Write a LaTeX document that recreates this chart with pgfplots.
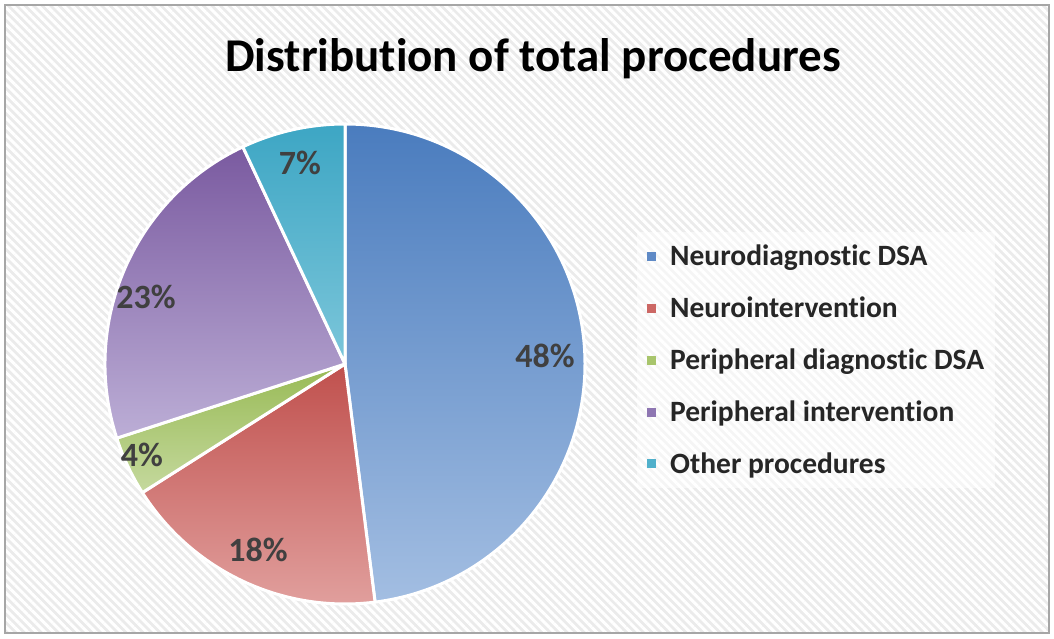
\documentclass[border=0pt]{standalone}
\usepackage{pgfplots}
\pgfplotsset{compat=1.18}
\usepackage{fontspec}
\setmainfont{Carlito}[Ligatures=NoCommon]
\usetikzlibrary{patterns.meta}
\definecolor{txt}{HTML}{404040}
\definecolor{bluet}{HTML}{4A7CBE}\definecolor{blueb}{HTML}{A3BEE2}
\definecolor{redt}{HTML}{C0504D}\definecolor{redb}{HTML}{E2A2A0}
\definecolor{greent}{HTML}{98BA55}\definecolor{greenb}{HTML}{C5D99E}
\definecolor{purt}{HTML}{7A5AA0}\definecolor{purb}{HTML}{BCAED6}
\definecolor{cyant}{HTML}{3DA6C4}\definecolor{cyanb}{HTML}{7CC6DA}
\definecolor{bluel}{HTML}{5F8AC6}\definecolor{redl}{HTML}{CC6764}
\definecolor{greenl}{HTML}{A8C56C}\definecolor{purl}{HTML}{8E76B2}
\definecolor{cyanl}{HTML}{50B0CB}
\begin{document}
\begin{tikzpicture}[x=1pt,y=1pt]
% background
\fill[white] (0,0) rectangle (1054,638);
\fill[black!8] (5,5) rectangle (1049,633);
\fill[pattern={Lines[angle=-45,distance=6pt,line width=3pt]},pattern color=white] (5,5) rectangle (1049,633);
\draw[black!35,line width=1.2pt] (5,5) rectangle (1049,633);
% title
\node[anchor=base,font=\fontsize{47}{54}\selectfont\bfseries,text=black] at (533,566) {Distribution of total procedures};
\begin{axis}[
  hide axis, clip=false,
  x=240pt, y=240pt, xmin=-1, xmax=1, ymin=-1, ymax=1,
  at={(345pt,274pt)}, anchor=origin,
  legend style={at={(1.108,0.775)}, anchor=north west, draw=none,
    fill=white, fill opacity=0.55, text opacity=1,
    font=\fontsize{29.5}{34}\selectfont\bfseries, text=black!85,
    row sep=27.7pt, inner xsep=10pt, inner ysep=12pt,
    nodes={inner sep=1pt}},
  legend cell align=left,
  legend image code/.code={\fill[#1,draw=none,fill opacity=1] (0pt,-4.5pt) rectangle (9pt,4.5pt); \path[draw=none,fill=none] (22pt,0pt) circle[radius=0.1pt];},
]
\addlegendimage{fill=bluel}\addlegendentry{Neurodiagnostic DSA}
\addlegendimage{fill=redl}\addlegendentry{Neurointervention}
\addlegendimage{fill=greenl}\addlegendentry{Peripheral diagnostic DSA}
\addlegendimage{fill=purl}\addlegendentry{Peripheral intervention}
\addlegendimage{fill=cyanl}\addlegendentry{Other procedures}
% slices: 48, 18, 4, 23, 7 percent, clockwise from 12 o'clock
\shade[top color=bluet,bottom color=blueb,draw=white,line width=3pt,line join=round]
  (axis cs:0,0) -- +(90:240pt) arc[start angle=90,end angle={90-48*3.6},radius=240pt] -- cycle;
\shade[top color=redt,bottom color=redb,draw=white,line width=3pt,line join=round]
  (axis cs:0,0) -- +({90-48*3.6}:240pt) arc[start angle={90-48*3.6},end angle={90-66*3.6},radius=240pt] -- cycle;
\shade[top color=greent,bottom color=greenb,draw=white,line width=3pt,line join=round]
  (axis cs:0,0) -- +({90-66*3.6}:240pt) arc[start angle={90-66*3.6},end angle={90-70*3.6},radius=240pt] -- cycle;
\shade[top color=purt,bottom color=purb,draw=white,line width=3pt,line join=round]
  (axis cs:0,0) -- +({90-70*3.6}:240pt) arc[start angle={90-70*3.6},end angle={90-93*3.6},radius=240pt] -- cycle;
\shade[top color=cyant,bottom color=cyanb,draw=white,line width=3pt,line join=round]
  (axis cs:0,0) -- +({90-93*3.6}:240pt) arc[start angle={90-93*3.6},end angle={90-100*3.6},radius=240pt] -- cycle;
% labels
\begin{scope}[every node/.style={font=\fontsize{34}{40}\selectfont\bfseries,text=txt}]
\node at (axis cs:0.833,0.033) {48\%};
\node at (axis cs:-0.3625,-0.775) {18\%};
\node at (axis cs:-0.846,-0.379) {4\%};
\node at (axis cs:-0.829,0.279) {23\%};
\node at (axis cs:-0.1875,0.8375) {7\%};
\end{scope}
\end{axis}
\end{tikzpicture}
\end{document}
